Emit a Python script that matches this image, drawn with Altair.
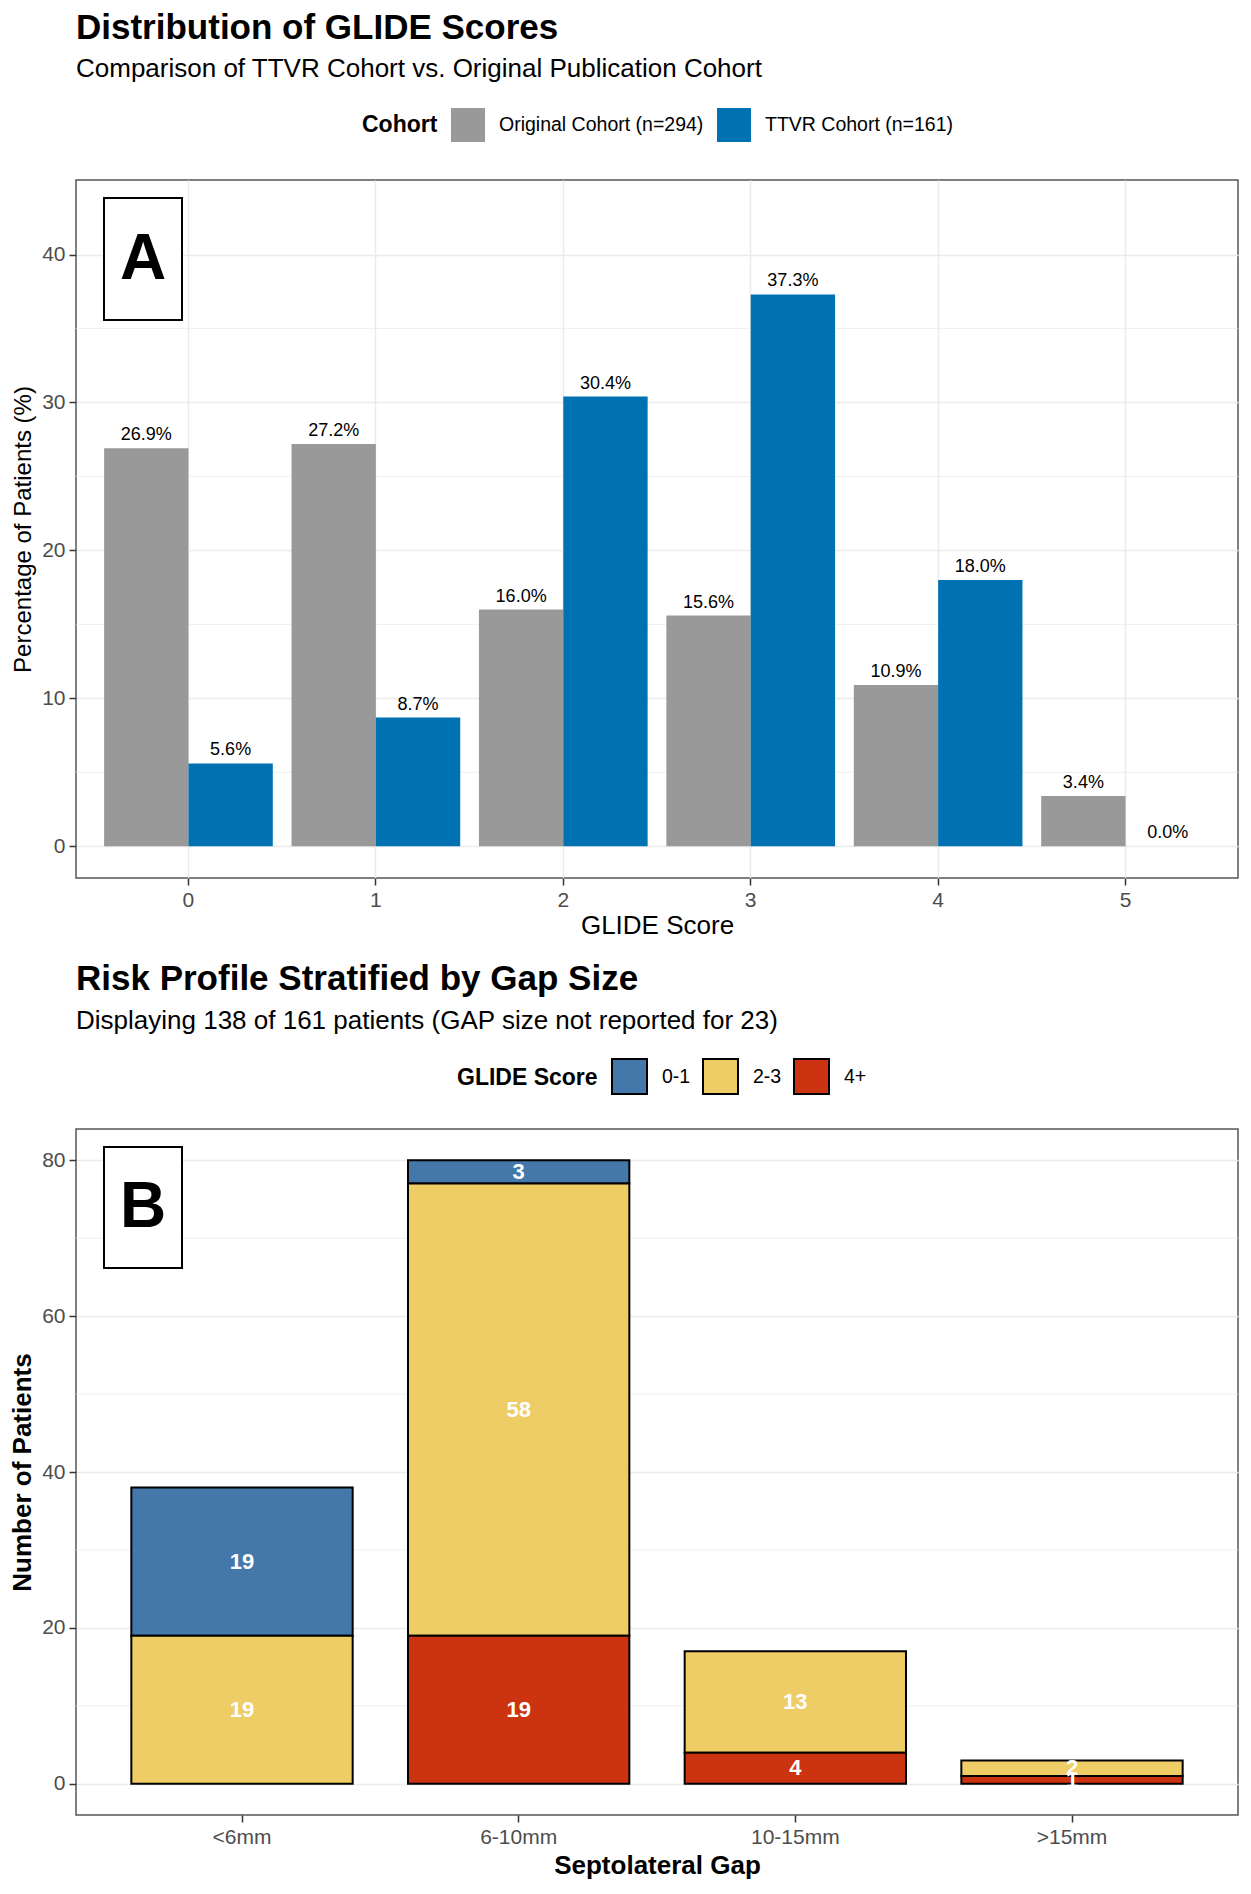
import altair as alt
import pandas as pd

FONT = "Liberation Sans"

# ---- Panel A data ----
glide_scores = ["0", "1", "2", "3", "4", "5"]
original_pct = [26.9, 27.2, 16.0, 15.6, 10.9, 3.4]
ttvr_pct = [5.6, 8.7, 30.4, 37.3, 18.0, 0.0]
cohort_labels = ["Original Cohort (n=294)", "TTVR Cohort (n=161)"]
cohort_colors = ["#999999", "#0072B2"]
y_major_a = [0, 10, 20, 30, 40]
y_minor_a = [5, 15, 25, 35]

# ---- Panel B data ----
gap_cats = ["<6mm", "6-10mm", "10-15mm", ">15mm"]
risk_groups = ["0-1", "2-3", "4+"]
risk_colors = ["#4477AA", "#EECC66", "#CC3311"]
counts_01 = [19, 3, 0, 0]
counts_23 = [19, 58, 13, 2]
counts_4p = [0, 19, 4, 1]
y_major_b = [0, 20, 40, 60, 80]
y_minor_b = [10, 30, 50, 70]

rows_a = []
for s, o, t in zip(glide_scores, original_pct, ttvr_pct):
    rows_a.append({"score": s, "cohort": cohort_labels[0], "pct": o, "label": f"{o:.1f}%"})
    rows_a.append({"score": s, "cohort": cohort_labels[1], "pct": t, "label": f"{t:.1f}%"})
df_a = pd.DataFrame(rows_a)

rows_b = []
stack_rank = {"4+": 0, "2-3": 1, "0-1": 2}
for g, c1, c2, c3 in zip(gap_cats, counts_01, counts_23, counts_4p):
    for grp, c in zip(risk_groups, [c1, c2, c3]):
        rows_b.append({"gap": g, "group": grp, "count": c, "rank": stack_rank[grp]})
df_b = pd.DataFrame(rows_b)

# ---------------- Panel A ----------------
yscale_a = alt.Scale(domain=[-2.145, 45.04], nice=False, zero=False)
xa = alt.X("score:N", sort=glide_scores,
           scale=alt.Scale(paddingInner=0.1, paddingOuter=0.15),
           axis=alt.Axis(title="GLIDE Score", labelAngle=0, bandPosition=0.5, grid=True,
                         titlePadding=2))
xoff_a = alt.XOffset("cohort:N", sort=cohort_labels,
                     scale=alt.Scale(paddingInner=0, paddingOuter=0))

minor_a = alt.Chart(pd.DataFrame({"v": y_minor_a})).mark_rule(
    color="#EBEBEB", strokeWidth=0.8).encode(y=alt.Y("v:Q", scale=yscale_a))

bars_a = alt.Chart(df_a).mark_bar().encode(
    x=xa, xOffset=xoff_a,
    y=alt.Y("pct:Q", scale=yscale_a,
            axis=alt.Axis(title="Percentage of Patients (%)", values=y_major_a, grid=True,
                          titleFontSize=24, titlePadding=6)),
    color=alt.Color("cohort:N", scale=alt.Scale(domain=cohort_labels, range=cohort_colors),
                    legend=alt.Legend(title="Cohort", orient="none", legendX=286, legendY=-72,
                                      direction="horizontal", titleOrient="left",
                                      titleFontSize=23, titleFontWeight="bold",
                                      titleBaseline="middle", titleAnchor="middle",
                                      labelFontSize=19.5, symbolType="square",
                                      symbolSize=1156, symbolStrokeWidth=0,
                                      labelOffset=14, columnPadding=13, titlePadding=13,
                                      labelLimit=400)),
)

text_a = alt.Chart(df_a).mark_text(baseline="bottom", dy=-4, fontSize=18, font=FONT,
                                   color="black").encode(
    x=xa, xOffset=xoff_a, y=alt.Y("pct:Q", scale=yscale_a), text="label:N")

box_a = alt.Chart(pd.DataFrame({"t": ["A"]})).mark_rect(
    fill="white", stroke="black", strokeWidth=2).encode(
    x=alt.value(28), x2=alt.value(106), y=alt.value(18), y2=alt.value(140))
letter_a = alt.Chart(pd.DataFrame({"t": ["A"]})).mark_text(
    fontSize=64, fontWeight="bold", font=FONT, color="black", baseline="middle").encode(
    x=alt.value(67), y=alt.value(80), text="t:N")

chart_a = alt.layer(minor_a, bars_a, text_a, box_a, letter_a).properties(
    width=1162, height=698,
    title=alt.TitleParams(text="Distribution of GLIDE Scores",
                          subtitle="Comparison of TTVR Cohort vs. Original Publication Cohort",
                          anchor="start", frame="group", fontSize=35, fontWeight="bold",
                          subtitleFontSize=26, font=FONT, subtitleFont=FONT,
                          color="black", subtitleColor="black", offset=25.6,
                          subtitlePadding=10.5))

# ---------------- Panel B ----------------
yscale_b = alt.Scale(domain=[-4, 84], nice=False, zero=False)
xb = alt.X("gap:N", sort=gap_cats, scale=alt.Scale(paddingInner=0.2, paddingOuter=0.2),
           axis=alt.Axis(title="Septolateral Gap", labelAngle=0, grid=False,
                         titleFontWeight="bold", titlePadding=5))

minor_b = alt.Chart(pd.DataFrame({"v": y_minor_b})).mark_rule(
    color="#EBEBEB", strokeWidth=0.8).encode(y=alt.Y("v:Q", scale=yscale_b))

base_b = alt.Chart(df_b).transform_filter("datum.count > 0").transform_stack(
    stack="count", groupby=["gap"], sort=[alt.SortField("rank", order="ascending")],
    as_=["y0", "y1"]).transform_calculate(mid="(datum.y0 + datum.y1) / 2")

bars_b = base_b.mark_bar(stroke="black", strokeWidth=2).encode(
    x=xb,
    y=alt.Y("y0:Q", scale=yscale_b,
            axis=alt.Axis(title="Number of Patients", values=y_major_b, grid=True,
                          titleFontWeight="bold", titlePadding=6)),
    y2="y1:Q",
    color=alt.Color("group:N", scale=alt.Scale(domain=risk_groups, range=risk_colors),
                    legend=alt.Legend(title="GLIDE Score", orient="none", legendX=381,
                                      legendY=-71, direction="horizontal",
                                      titleOrient="left", titleFontSize=23,
                                      titleFontWeight="bold", titleBaseline="middle",
                                      titleAnchor="middle", labelFontSize=19.5,
                                      symbolType="square", symbolSize=1225,
                                      symbolStrokeColor="black", symbolStrokeWidth=2,
                                      labelOffset=14, columnPadding=8, titlePadding=13)),
)

text_b = base_b.mark_text(color="white", fontWeight="bold", fontSize=22, font=FONT,
                          baseline="middle").encode(
    x=xb, y=alt.Y("mid:Q", scale=yscale_b), text="count:Q")

box_b = alt.Chart(pd.DataFrame({"t": ["B"]})).mark_rect(
    fill="white", stroke="black", strokeWidth=2).encode(
    x=alt.value(28), x2=alt.value(106), y=alt.value(18), y2=alt.value(139))
letter_b = alt.Chart(pd.DataFrame({"t": ["B"]})).mark_text(
    fontSize=64, fontWeight="bold", font=FONT, color="black", baseline="middle").encode(
    x=alt.value(67), y=alt.value(79), text="t:N")

chart_b = alt.layer(minor_b, bars_b, text_b, box_b, letter_b).properties(
    width=1162, height=686,
    title=alt.TitleParams(text="Risk Profile Stratified by Gap Size",
                          subtitle="Displaying 138 of 161 patients (GAP size not reported for 23)",
                          anchor="start", frame="group", fontSize=35, fontWeight="bold",
                          subtitleFontSize=26, font=FONT, subtitleFont=FONT,
                          color="black", subtitleColor="black", offset=24.5,
                          subtitlePadding=10.5))

chart = alt.vconcat(chart_a, chart_b, spacing=22).resolve_scale(
    color="independent", x="independent", y="independent"
).resolve_legend(color="independent").properties(
    padding={"left": 0, "top": 2, "right": 0, "bottom": 0}
).configure(font=FONT).configure_view(
    stroke="#555555", strokeWidth=1.5
).configure_axis(
    labelFont=FONT, titleFont=FONT, labelFontSize=21, titleFontSize=26,
    labelColor="#4D4D4D", titleColor="black", titleFontWeight="normal",
    tickColor="#333333", tickSize=7, tickWidth=1.5, labelPadding=4,
    domain=False, gridColor="#EBEBEB", gridWidth=1.5, titlePadding=8
).configure_legend(
    labelFont=FONT, titleFont=FONT, labelColor="black", titleColor="black"
)

chart.save("out.html", embed_options={"renderer": "svg", "actions": False})
